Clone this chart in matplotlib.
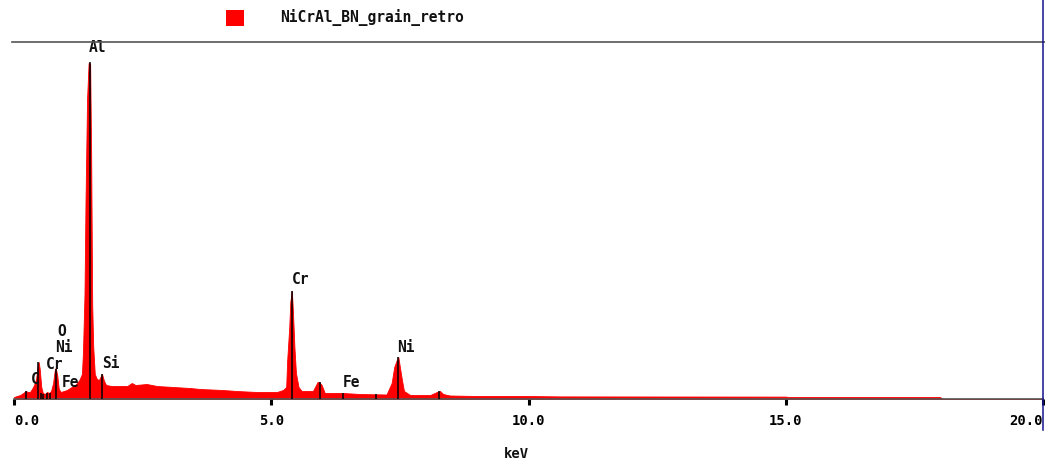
import matplotlib
matplotlib.use("Agg")
import matplotlib.pyplot as plt
from matplotlib.patches import Rectangle
from matplotlib.lines import Line2D

# spectrum (keV, counts in arbitrary units)
energy = [0.00, 0.06, 0.12, 0.18, 0.23, 0.27, 0.31, 0.35, 0.39, 0.43, 0.46, 0.48,
          0.50, 0.53, 0.56, 0.60, 0.64, 0.68, 0.72, 0.76, 0.79, 0.81, 0.84, 0.87,
          0.91, 0.97, 1.03, 1.09, 1.15, 1.21, 1.27, 1.32, 1.34, 1.37, 1.39, 1.42,
          1.45, 1.48, 1.50, 1.52, 1.54, 1.57, 1.61, 1.65, 1.69, 1.71, 1.75, 1.79,
          1.90, 2.05, 2.20, 2.29, 2.36, 2.58, 2.78, 3.10, 3.42, 3.62, 4.06, 4.33,
          4.72, 5.11, 5.23, 5.29, 5.31, 5.35, 5.37, 5.40, 5.42, 5.45, 5.48, 5.53,
          5.59, 5.81, 5.85, 5.90, 5.93, 5.98, 6.04, 6.40, 6.72, 7.24, 7.34, 7.39,
          7.44, 7.47, 7.50, 7.54, 7.58, 7.70, 8.09, 8.22, 8.28, 8.34, 8.47, 9.00,
          10.00, 10.60, 15.00, 15.05, 18.00, 18.05, 20.0]
counts = [2, 3, 4, 6, 8, 7, 7, 10, 14, 20, 33, 37,
          30, 12, 6, 5, 7, 6, 8, 16, 28, 31, 24, 10,
          7, 8, 9, 11, 13, 15, 19, 25, 46, 104, 197, 300,
          336, 335, 242, 94, 52, 25, 20, 19, 23, 25, 18, 14,
          13, 13, 13, 16, 14, 15, 13, 12, 11, 10, 9, 8,
          7, 7, 9, 12, 39, 72, 97, 108, 89, 52, 26, 12,
          8, 8, 12, 17, 17, 14, 6, 6, 5, 4.5, 16, 32,
          39, 42, 32, 19, 8, 4, 4, 7, 8, 5, 3.5, 3,
          3, 2.6, 2.4, 2.0, 2.0, 0, 0]

# element marker lines (keV, height)
marker_kev = [0.23, 0.47, 0.52, 0.56, 0.64, 0.70, 0.82, 1.47, 1.71,
              5.40, 5.94, 6.39, 7.04, 7.46, 8.26]
marker_h = [8, 37, 6, 5, 6, 6, 30, 337, 25,
            108, 17, 6, 5, 42, 8]

# element labels (text, keV of left edge, height of centre)
label_text = ["Al", "Si", "Cr", "Ni", "Fe", "O", "Ni", "Cr", "Fe", "C"]
label_kev = [1.46, 1.71, 5.40, 7.44, 6.39, 0.84, 0.80, 0.62, 0.93, 0.33]
label_h = [351, 36, 120, 52, 17, 67, 51, 35, 17, 20]

tick_vals = [0, 5, 10, 15, 20]
tick_text = ["0.0", "5.0", "10.0", "15.0", "20.0"]
series_name = "NiCrAl_BN_grain_retro"

W, H = 1045, 461
mono = "DejaVu Sans Mono"

fig = plt.figure(figsize=(W / 100, H / 100), dpi=100)
ax = fig.add_axes([14 / W, 62 / H, 1029 / W, 357 / H])

ax.fill_between(energy, counts, 0, color="#ff0000", lw=0.6, edgecolor="#ff0000", zorder=1)
ax.vlines(marker_kev, 0, marker_h, color="black", lw=1.1, zorder=3)

for t, x, y in zip(label_text, label_kev, label_h):
    ax.text(x, y, t, ha="left", va="center", family=mono, fontweight="bold",
            fontsize=10.5, color="#111111", zorder=4)

ax.set_xlim(0, 20)
ax.set_ylim(0, 357)
ax.set_yticks([])
ax.set_xticks(tick_vals)
ax.set_xticklabels(tick_text, family=mono, fontweight="bold", fontsize=10)
ax.tick_params(axis="x", direction="out", length=4.5, width=2.2, color="black", pad=6)
labels = ax.get_xticklabels()
labels[0].set_horizontalalignment("left")
labels[-1].set_horizontalalignment("right")

for side in ["left", "right"]:
    ax.spines[side].set_visible(False)
ax.spines["top"].set_visible(False)
ax.spines["bottom"].set_color("#555555")
ax.spines["bottom"].set_linewidth(1.2)

# top border runs a little past the plot on both sides
fig.add_artist(Line2D([12 / W, 1.0], [(H - 42) / H, (H - 42) / H],
                      color="#555555", lw=1.2))

# blue right border, runs above the plot area
fig.add_artist(Line2D([1043 / W, 1043 / W], [(H - 430) / H, 1.0],
                      color="#14148c", lw=1.1))

# legend drawn by hand
fig.add_artist(Rectangle((226 / W, (H - 26) / H), 18 / W, 16 / H,
                         color="#ff0000", lw=0))
fig.text(280 / W, (H - 18) / H, series_name, ha="left", va="center",
         family=mono, fontweight="bold", fontsize=10.5, color="#111111")

fig.text(516 / W, 7 / H, "keV", ha="center", va="center",
         family=mono, fontweight="bold", fontsize=10, color="#111111")

fig.savefig("out.png", dpi=100)
